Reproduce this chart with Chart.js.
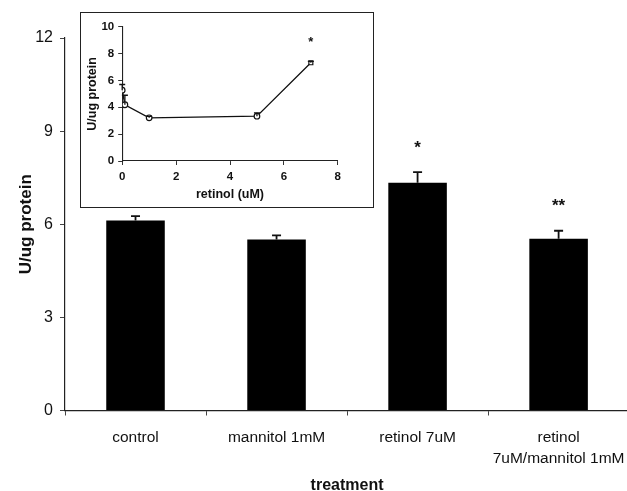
<!DOCTYPE html>
<html><head><meta charset="utf-8">
<script src="https://cdn.jsdelivr.net/npm/chart.js@4"></script>
<style>
html,body{margin:0;padding:0;background:#fff;overflow:hidden}
#wrap{position:relative;width:627px;height:491px;overflow:hidden}
#main{position:absolute;left:0;top:0}
#box{position:absolute;left:80px;top:12px;width:292px;height:194px;border:1.5px solid #222;background:#fff}
#inset{display:block}
</style></head><body>
<div id="wrap">
<canvas id="main" width="636" height="491"></canvas>
<div id="box"><canvas id="inset" width="292" height="194"></canvas></div>
</div>
<script>
// ---- main chart data ----
const categories = ['control', 'mannitol 1mM', 'retinol 7uM', ['retinol', '7uM/mannitol 1mM']];
const activity = [6.12, 5.51, 7.34, 5.53];
const activityErr = [0.14, 0.13, 0.34, 0.26];
const significance = ['', '', '*', '**'];
const yTicks = [0, 3, 6, 9, 12];

// ---- inset data ----
const retinolDose = [0, 0.1, 1, 5, 7];
const insetActivity = [5.28, 4.19, 3.22, 3.34, 7.32];
const insetErr = [0.42, 0.71, 0.1, 0.25, 0.1];
const insetSignificance = ['', '', '', '', '*'];
const insetXTicks = [0, 2, 4, 6, 8];
const insetYTicks = [0, 2, 4, 6, 8, 10];

Chart.defaults.font.family = '"Liberation Sans", Arial, sans-serif';
Chart.defaults.color = '#111';

function errorPlugin(id, values, errs, marks, capHalf, lw, starGap, starFont) {
  return {
    id: id,
    afterDatasetsDraw(chart) {
      const meta = chart.getDatasetMeta(0);
      const ys = chart.scales.y;
      const ctx = chart.ctx;
      ctx.save();
      ctx.strokeStyle = '#111';
      ctx.lineWidth = lw;
      meta.data.forEach((el, i) => {
        const x = el.x;
        const y0 = ys.getPixelForValue(values[i]);
        const y1 = ys.getPixelForValue(values[i] + errs[i]);
        ctx.beginPath();
        ctx.moveTo(x, y0);
        ctx.lineTo(x, y1);
        ctx.moveTo(x - capHalf, y1);
        ctx.lineTo(x + capHalf, y1);
        ctx.stroke();
        if (marks[i]) {
          ctx.fillStyle = '#111';
          ctx.font = starFont;
          ctx.textAlign = 'center';
          ctx.textBaseline = 'middle';
          ctx.fillText(marks[i], x, y1 - starGap);
        }
      });
      ctx.restore();
    }
  };
}

new Chart(document.getElementById('main'), {
  type: 'bar',
  data: {
    labels: categories,
    datasets: [{
      data: activity,
      backgroundColor: '#000',
      borderWidth: 0,
      barPercentage: 0.415,
      categoryPercentage: 1
    }]
  },
  options: {
    responsive: false,
    animation: false,
    layout: { padding: { top: 38, right: 0, bottom: 0, left: 0 } },
    plugins: { legend: { display: false }, tooltip: { enabled: false } },
    scales: {
      x: {
        afterFit: s => { s.height = 80.5; },
        grid: { display: true, drawOnChartArea: false, offset: true, tickLength: 5, color: '#444', lineWidth: 1 },
        border: { display: true, color: '#222', width: 1.2 },
        ticks: { font: { size: 15.5, lineHeight: 1.35 }, padding: 11.5, maxRotation: 0, autoSkip: false, color: '#111' },
        title: { display: true, text: 'treatment', font: { size: 16, weight: 'bold', lineHeight: 1 }, padding: { top: 0, bottom: -3 }, color: '#111' }
      },
      y: {
        min: 0, max: 12,
        afterFit: s => { s.width = 65; },
        afterBuildTicks: s => { s.ticks = yTicks.map(v => ({ value: v })); },
        grid: { display: true, drawOnChartArea: false, tickLength: 5, color: '#444' },
        border: { display: true, color: '#222', width: 1.2 },
        ticks: { font: { size: 16 }, padding: 7, color: '#111' },
        title: { display: true, text: 'U/ug protein', font: { size: 17, weight: 'bold' }, padding: { top: 16, bottom: 0 }, color: '#111' }
      }
    }
  },
  plugins: [errorPlugin('mainErr', activity, activityErr, significance, 4.5, 1.8, 24, 'bold 17px "Liberation Sans", Arial, sans-serif')]
});

new Chart(document.getElementById('inset'), {
  type: 'line',
  data: {
    datasets: [{
      data: retinolDose.map((x, i) => ({ x: x, y: insetActivity[i] })),
      borderColor: '#111',
      borderWidth: 1.3,
      tension: 0,
      pointRadius: 2.8,
      pointStyle: ['circle', 'circle', 'circle', 'circle', 'rect'],
      pointBackgroundColor: '#fff',
      pointBorderColor: '#111',
      pointBorderWidth: 1.2
    }]
  },
  options: {
    responsive: false,
    animation: false,
    layout: { padding: { top: 13.8, right: 35.2, bottom: 0, left: 0 } },
    plugins: { legend: { display: false }, tooltip: { enabled: false } },
    scales: {
      x: {
        type: 'linear', min: 0, max: 8,
        afterFit: s => { s.height = 46; },
        afterBuildTicks: s => { s.ticks = insetXTicks.map(v => ({ value: v })); },
        grid: { display: true, drawOnChartArea: false, tickLength: 4, color: '#333' },
        border: { display: true, color: '#222', width: 1.1 },
        ticks: { font: { size: 11.5, weight: 'bold' }, padding: 5, color: '#111' },
        title: { display: true, text: 'retinol (uM)', font: { size: 12.5, weight: 'bold' }, padding: { top: 0, bottom: 5 }, color: '#111' }
      },
      y: {
        min: 0, max: 10,
        afterFit: s => { s.width = 41.2; },
        afterBuildTicks: s => { s.ticks = insetYTicks.map(v => ({ value: v })); },
        grid: { display: true, drawOnChartArea: false, tickLength: 4, color: '#333' },
        border: { display: true, color: '#222', width: 1.1 },
        ticks: { font: { size: 11.5, weight: 'bold' }, padding: 4, color: '#111' },
        title: { display: true, text: 'U/ug protein', font: { size: 12.5, weight: 'bold' }, padding: { top: 4.3, bottom: 0 }, color: '#111' }
      }
    }
  },
  plugins: [errorPlugin('insetErr', insetActivity, insetErr, insetSignificance, 3, 1.3, 19, 'bold 13px "Liberation Sans", Arial, sans-serif')]
});
</script>
</body></html>
